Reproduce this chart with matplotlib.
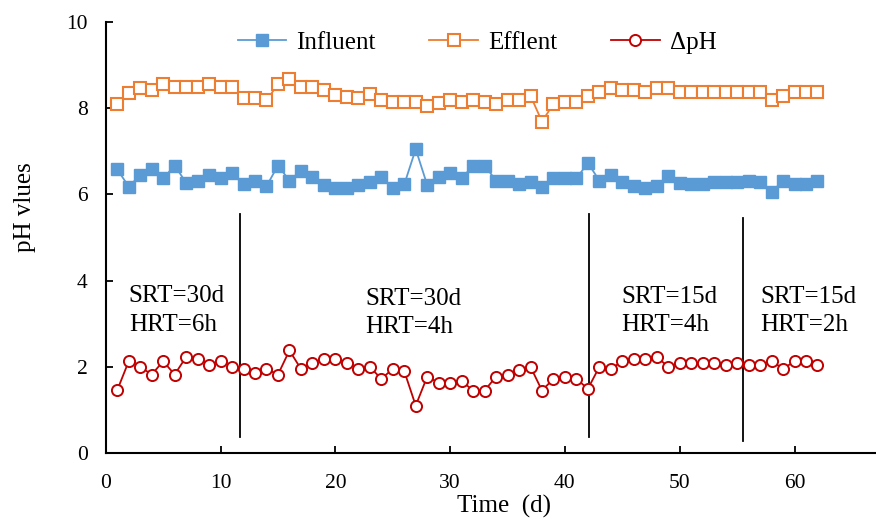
import matplotlib
matplotlib.use("Agg")
import matplotlib.pyplot as plt

plt.rcParams['font.family'] = ['Liberation Serif', 'DejaVu Serif']
plt.rcParams['mathtext.fontset'] = 'stix'

days = list(range(1, 63))
influent = [6.58, 6.18, 6.45, 6.59, 6.37, 6.67, 6.27, 6.32, 6.45, 6.37,
            6.49, 6.23, 6.32, 6.19, 6.67, 6.32, 6.55, 6.41, 6.22, 6.14,
            6.14, 6.22, 6.28, 6.40, 6.16, 6.23, 7.05, 6.22, 6.41, 6.49,
            6.37, 6.67, 6.67, 6.32, 6.32, 6.23, 6.28, 6.18, 6.37, 6.37,
            6.37, 6.73, 6.32, 6.46, 6.28, 6.19, 6.14, 6.19, 6.43, 6.27,
            6.23, 6.23, 6.28, 6.28, 6.28, 6.32, 6.28, 6.05, 6.32, 6.23,
            6.23, 6.32]
effluent = [8.09, 8.36, 8.47, 8.43, 8.56, 8.50, 8.50, 8.50, 8.56, 8.50,
            8.50, 8.23, 8.23, 8.18, 8.56, 8.68, 8.50, 8.50, 8.43, 8.31,
            8.27, 8.23, 8.33, 8.18, 8.14, 8.14, 8.14, 8.05, 8.12, 8.19,
            8.14, 8.19, 8.14, 8.10, 8.19, 8.19, 8.29, 7.69, 8.10, 8.14,
            8.14, 8.29, 8.37, 8.47, 8.43, 8.43, 8.37, 8.47, 8.47, 8.37,
            8.37, 8.37, 8.37, 8.37, 8.37, 8.37, 8.37, 8.19, 8.29, 8.37,
            8.37, 8.37]
delta_ph = [1.46, 2.13, 2.00, 1.82, 2.13, 1.82, 2.23, 2.19, 2.05, 2.13,
            2.00, 1.95, 1.86, 1.95, 1.82, 2.38, 1.95, 2.09, 2.19, 2.19,
            2.09, 1.95, 2.00, 1.72, 1.95, 1.90, 1.10, 1.77, 1.63, 1.63,
            1.67, 1.45, 1.45, 1.77, 1.82, 1.92, 2.00, 1.45, 1.72, 1.77,
            1.72, 1.49, 2.00, 1.95, 2.13, 2.19, 2.19, 2.23, 2.00, 2.09,
            2.09, 2.09, 2.09, 2.04, 2.09, 2.04, 2.04, 2.14, 1.95, 2.13,
            2.13, 2.04]

phase_x = [11.7, 42.1, 55.5]
phase_top = [5.54, 5.55, 5.45]
phase_bottom = [0.38, 0.38, 0.29]
phase_labels = [("SRT=30d\nHRT=6h", 2.0, 3.31),
                ("SRT=30d\nHRT=4h", 22.6, 3.25),
                ("SRT=15d\nHRT=4h", 44.9, 3.29),
                ("SRT=15d\nHRT=2h", 57.0, 3.29)]

fig = plt.figure(figsize=(8.76, 5.25), dpi=100)
ax = fig.add_axes([105.8/876, 1-453/525, 1-105.8/876, (453-22)/525])

ax.plot(days, influent, color='#5B9BD5', lw=1.3, marker='s', ms=9,
        mfc='#5B9BD5', mec='#5B9BD5', label='Influent', zorder=3)
ax.plot(days, effluent, color='#ED7D31', lw=1.3, marker='s', ms=9,
        mfc='white', mec='#ED7D31', mew=1.5, label='Efflent', zorder=3)
ax.plot(days, delta_ph, color='#C00000', lw=1.3, marker='o', ms=8,
        mfc='white', mec='#C00000', mew=1.4, label='ΔpH', zorder=3)

for x, t, b in zip(phase_x, phase_top, phase_bottom):
    ax.plot([x, x], [b, t], color='black', lw=1.3, zorder=2)

for txt, x, y in phase_labels:
    ax.text(x, y, txt, fontsize=18, ha='left', va='center', linespacing=1.38)

ax.set_xlim(0, 67.1)
ax.set_ylim(0, 10)
ax.set_xticks([0, 10, 20, 30, 40, 50, 60])
ax.set_yticks([0, 2, 4, 6, 8, 10])
ax.tick_params(direction='in', length=5, width=1.3, labelsize=15.5)
ax.tick_params(axis='x', pad=15)
ax.tick_params(axis='y', pad=13)
ax.spines['top'].set_visible(False)
ax.spines['right'].set_visible(False)
for s in ['left', 'bottom']:
    ax.spines[s].set_linewidth(1.5)

fig.text(25/876, 1-207/525, 'pH vlues', rotation=90, fontsize=18,
         ha='center', va='center')
fig.text(504/876, 1-506/525, 'Time  (d)', fontsize=18, ha='center', va='center')

leg = ax.legend(loc='upper center', bbox_to_anchor=(0.482, 1.03), ncol=3,
                frameon=False, fontsize=18, handlelength=1.95,
                columnspacing=2.15, handletextpad=0.4)

fig.savefig('out.png', dpi=100)
